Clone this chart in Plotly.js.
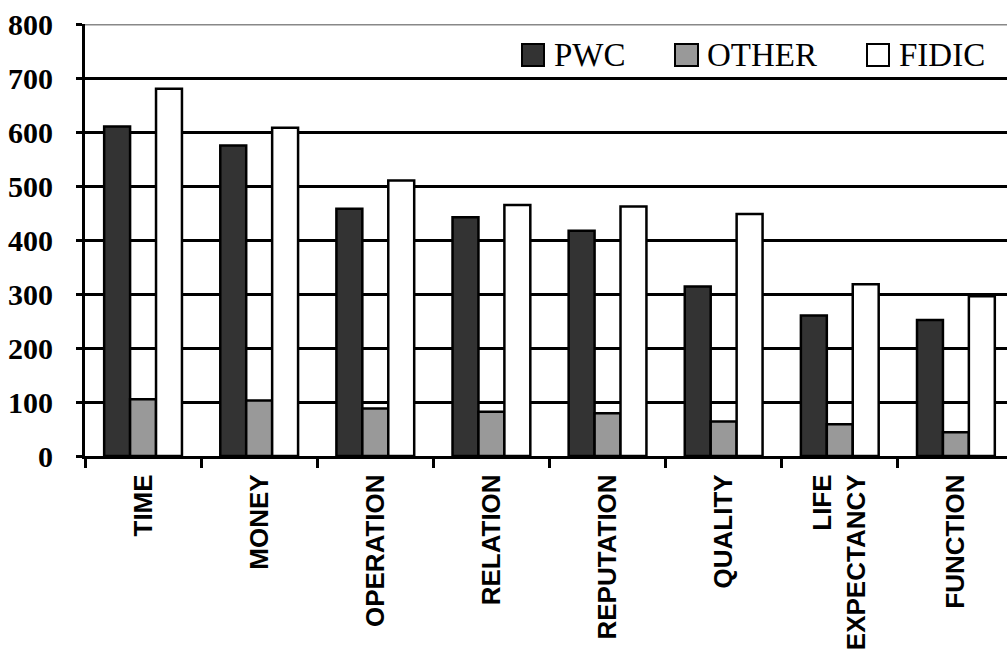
<!DOCTYPE html>
<html>
<head>
<meta charset="utf-8">
<script src="https://cdn.plot.ly/plotly-3.0.1.min.js"></script>
<style>
html,body{margin:0;padding:0;background:#fff;overflow:hidden;}
#chart{width:1007px;height:657px;}
</style>
</head>
<body>
<div id="chart"></div>
<script>
const categories = ["TIME","MONEY","OPERATION","RELATION","REPUTATION","QUALITY","LIFE<br>EXPECTANCY","FUNCTION"];
const pwc    = [610, 575, 458, 442, 417, 314, 260, 252];
const other  = [105, 103, 88, 82, 79, 64, 59, 44];
const fidic  = [680, 608, 510, 465, 462, 448, 318, 296];
const seriesNames = ["PWC","OTHER","FIDIC"];
const seriesColors = ["#333333","#999999","#ffffff"];
const yTicks = [0,100,200,300,400,500,600,700,800];

const values = [pwc, other, fidic];
const traces = values.map((v,i)=>({
  type:'bar',
  name: seriesNames[i],
  x: categories,
  y: v,
  marker:{color: seriesColors[i], line:{color:'#000', width:2.5}},
  showlegend:false,
  hoverinfo:'x+y+name'
}));

const L = 85, R = 1007, T = 24, B = 456;
const px = x => (x - L)/(R - L);
const py = y => (B - y)/(B - T);

const legendBoxes = [[522,544],[675,698],[867,889]];
const legendText = [552,705,897];
const shapes = [
  {type:'line', xref:'paper', yref:'y', x0:0, x1:1, y0:800, y1:800, line:{color:'#888888', width:3}}
];
const annotations = [];
seriesNames.forEach((n,i)=>{
  shapes.push({type:'rect', xref:'paper', yref:'paper', x0:px(legendBoxes[i][0]), x1:px(legendBoxes[i][1]),
    y0:py(66), y1:py(44), fillcolor:seriesColors[i], line:{color:'#000', width:2}});
  annotations.push({xref:'paper', yref:'paper', x:px(legendText[i]), y:py(55), xanchor:'left', yanchor:'middle',
    text:n, showarrow:false, font:{family:'"Liberation Serif","Times New Roman",serif', size:33, color:'#000'}});
});

const layout = {
  width:1007, height:657,
  margin:{l:L, r:0, t:T, b:657-B, pad:0},
  paper_bgcolor:'#fff', plot_bgcolor:'#fff',
  barmode:'group', bargap:0.33, bargroupgap:0,
  xaxis:{
    type:'category',
    range:[-0.5, 7.44],
    tickson:'boundaries',
    ticks:'outside', ticklen:9, tickwidth:3, tickcolor:'#000',
    showline:true, linecolor:'#000', linewidth:3,
    showgrid:false, zeroline:false,
    tickangle:-90,
    ticklabelstandoff:5,
    tickfont:{family:'"Liberation Sans",Arial,sans-serif', size:26, color:'#000', weight:'bold'}
  },
  yaxis:{
    range:[0,800],
    tickvals:yTicks,
    ticktext:yTicks.map(v=>'<b>'+v+'</b>'),
    ticks:'outside', ticklen:6, tickwidth:3, tickcolor:'#000',
    showline:true, linecolor:'#000', linewidth:3,
    showgrid:true, gridcolor:'#000', gridwidth:3,
    zeroline:false,
    ticklabelstandoff:17,
    tickfont:{family:'"Liberation Serif","Times New Roman",serif', size:30, color:'#000'}
  },
  shapes:shapes,
  annotations:annotations
};

Plotly.newPlot('chart', traces, layout, {displayModeBar:false, staticPlot:true});
</script>
</body>
</html>
